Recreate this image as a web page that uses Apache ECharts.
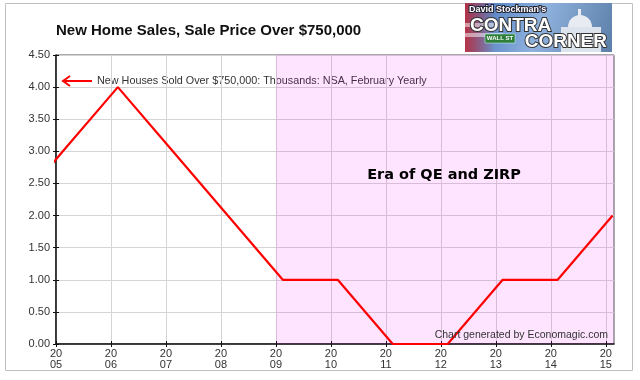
<!DOCTYPE html>
<html>
<head>
<meta charset="utf-8">
<script src="https://cdn.jsdelivr.net/npm/echarts@6/dist/echarts.min.js"></script>
<style>html,body{margin:0;padding:0;background:#fff}#c{width:640px;height:380px}</style>
</head>
<body>
<div id="c"></div>
<script>
// February of each year, thousands of new houses sold over $750,000 (NSA)
const years = [2004, 2005, 2006, 2007, 2008, 2009, 2010, 2011, 2012, 2013, 2014, 2015];
const sales = [2, 3, 4, 3, 2, 1, 1, 0, 0, 1, 1, 2];
const tickYears = [2005, 2006, 2007, 2008, 2009, 2010, 2011, 2012, 2013, 2014, 2015];
const yTicks = [0, 0.5, 1, 1.5, 2, 2.5, 3, 3.5, 4, 4.5];
const eraStart = 2009;
const titleText = 'New Home Sales, Sale Price Over $750,000';
const seriesName = 'New Houses Sold Over $750,000: Thousands: NSA, February Yearly';
const eraText = 'Era of QE and ZIRP';
const creditText = 'Chart generated by Economagic.com';

const FEB = 1.5 / 12; // mid-February position within the year
const points = years.map((y, i) => [y + FEB, sales[i]]);

const chart = echarts.init(document.getElementById('c'), null, {renderer: 'canvas'});
const font = '"Liberation Sans", Arial, sans-serif';
const xMin = 2005, xMax = 2015.15;

const option = {
  animation: false,
  backgroundColor: '#fff',
  grid: {left: 56, top: 55, right: 26, bottom: 36, show: true, borderColor: '#555', borderWidth: 1},
  xAxis: [{
    type: 'value', min: xMin, max: xMax, interval: 1, position: 'bottom',
    axisLine: {show: true, onZero: false, lineStyle: {color: '#111', width: 1.5}},
    axisTick: {show: true, length: 3, customValues: tickYears, lineStyle: {color: '#111'}},
    axisLabel: {
      customValues: tickYears, margin: 4, color: '#333', fontFamily: font, fontSize: 11, lineHeight: 11,
      formatter: v => { const s = String(Math.round(v)); return s.slice(0, 2) + '\n' + s.slice(2); }
    },
    splitLine: {show: true, lineStyle: {color: '#d4d4d4', width: 1}}
  }, {
    type: 'value', min: xMin, max: xMax, interval: 1, position: 'bottom',
    axisLine: {show: false, onZero: false},
    axisTick: {show: true, inside: true, length: 3, customValues: tickYears, lineStyle: {color: '#111'}},
    axisLabel: {show: false}, splitLine: {show: false}
  }],
  yAxis: [{
    type: 'value', min: yTicks[0], max: yTicks[yTicks.length - 1], interval: 0.5, position: 'left',
    axisLine: {show: true, onZero: false, lineStyle: {color: '#111', width: 1.5}},
    axisTick: {show: true, length: 3, lineStyle: {color: '#111'}},
    axisLabel: {margin: 6, color: '#333', fontFamily: font, fontSize: 11, formatter: v => v.toFixed(2)},
    splitLine: {show: true, lineStyle: {color: '#d4d4d4', width: 1}}
  }, {
    type: 'value', min: yTicks[0], max: yTicks[yTicks.length - 1], interval: 0.5, position: 'left',
    axisLine: {show: false, onZero: false},
    axisTick: {show: true, inside: true, length: 3, lineStyle: {color: '#111'}},
    axisLabel: {show: false}, splitLine: {show: false}
  }],
  series: [{
    type: 'line', name: seriesName, data: points, xAxisIndex: 0, yAxisIndex: 0,
    showSymbol: false, symbol: 'none', clip: true,
    lineStyle: {color: '#ff0000', width: 2.2}, z: 5,
    markArea: {
      silent: true,
      itemStyle: {color: 'rgba(255,0,255,0.105)'},
      data: [[{xAxis: eraStart}, {xAxis: xMax}]]
    }
  }],
  graphic: [
    {type: 'rect', shape: {x: 5.5, y: 3.5, width: 627, height: 367}, style: {fill: 'none', stroke: '#c0c0c0', lineWidth: 1}, z: -10, silent: true},
    {type: 'text', left: 56, top: 23, style: {text: titleText, font: 'bold 15px ' + font, fill: '#111'}},
    // legend arrow + text
    {type: 'polyline', shape: {points: [[92, 81], [64, 81]]}, style: {stroke: '#ff0000', lineWidth: 2}},
    {type: 'polyline', shape: {points: [[70, 76], [63, 81], [70, 86]]}, style: {stroke: '#ff0000', lineWidth: 2, fill: 'none'}},
    {type: 'text', x: 97, y: 81, style: {text: seriesName, font: '10.8px ' + font, fill: '#333', verticalAlign: 'middle'}},
    {type: 'text', x: 444, y: 175, style: {text: eraText, font: 'bold 14.5px "Comic Sans MS", "DejaVu Sans", sans-serif', fill: '#000', align: 'center', verticalAlign: 'middle'}, z: 10},
    {type: 'text', x: 608, y: 335, style: {text: creditText, font: '10.5px ' + font, fill: '#333', align: 'right', verticalAlign: 'middle'}, z: 10},
    // logo
    {type: 'group', x: 465, y: 3, children: [
      {type: 'rect', shape: {x: 0, y: 0, width: 147, height: 49}, style: {fill: new echarts.graphic.LinearGradient(0, 0, 1, 1, [
        {offset: 0, color: '#3f6fb8'}, {offset: 0.5, color: '#8fb2de'}, {offset: 1, color: '#5b7fa8'}])}},
      {type: 'rect', shape: {x: 0, y: 0, width: 30, height: 49}, style: {fill: new echarts.graphic.LinearGradient(0, 0, 1, 0, [
        {offset: 0, color: 'rgba(200,40,50,0.85)'}, {offset: 1, color: 'rgba(200,40,50,0)'}])}},
      {type: 'rect', shape: {x: 0, y: 20, width: 38, height: 4}, style: {fill: 'rgba(255,255,255,0.5)'}},
      {type: 'rect', shape: {x: 0, y: 30, width: 38, height: 4}, style: {fill: 'rgba(255,255,255,0.5)'}},
      // capitol
      {type: 'circle', shape: {cx: 115, cy: 24, r: 12}, style: {fill: '#e8ecf2'}},
      {type: 'rect', shape: {x: 96, y: 24, width: 40, height: 25}, style: {fill: '#dde3ec'}},
      {type: 'rect', shape: {x: 113, y: 6, width: 3, height: 8}, style: {fill: '#e8ecf2'}},
      // wall st sign
      {type: 'rect', shape: {x: 20, y: 31, width: 30, height: 9}, style: {fill: '#2e7d3a', stroke: '#cfe', lineWidth: 0.5}},
      {type: 'text', x: 35, y: 35.5, style: {text: 'WALL ST', font: 'bold 6px ' + font, fill: '#fff', align: 'center', verticalAlign: 'middle'}},
      {type: 'text', x: 4, y: 7, style: {text: "David Stockman's", font: 'bold 9px ' + font, fill: '#fff', stroke: '#223', lineWidth: 2, verticalAlign: 'middle'}},
      {type: 'text', x: 5, y: 23, style: {text: 'CONTRA', font: 'bold 19px ' + font, fill: '#fff', stroke: '#333', lineWidth: 2, verticalAlign: 'middle'}},
      {type: 'text', x: 142, y: 39, style: {text: 'CORNER', font: 'bold 19px ' + font, fill: '#fff', stroke: '#333', lineWidth: 2, align: 'right', verticalAlign: 'middle'}}
    ]}
  ]
};
chart.setOption(option);
</script>
</body>
</html>
